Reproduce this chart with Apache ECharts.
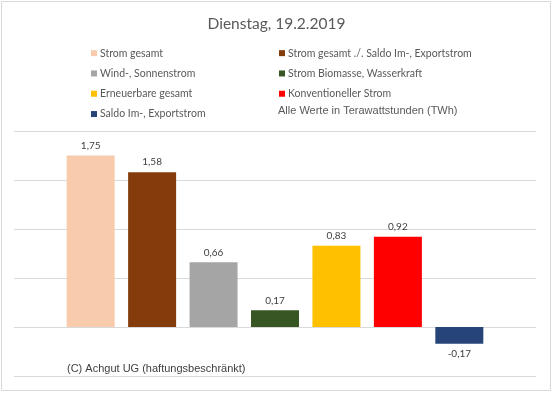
<!DOCTYPE html>
<html><head><meta charset="utf-8">
<script src="https://cdn.jsdelivr.net/npm/echarts@6/dist/echarts.min.js"></script>
<style>html,body{margin:0;padding:0;background:#fff}#c{width:553px;height:394px}</style>
</head><body><div id="c"></div>
<script>
var seriesNames = ['Strom gesamt','Strom gesamt ./. Saldo Im-, Exportstrom','Wind-, Sonnenstrom','Strom Biomasse, Wasserkraft','Erneuerbare gesamt','Konventioneller Strom','Saldo Im-, Exportstrom'];
var values = [1.75, 1.58, 0.66, 0.17, 0.83, 0.92, -0.17];
var colors = ['#F8CBAD','#843C0C','#A5A5A5','#375623','#FFC000','#FF0000','#264478'];
var category = ['19.2.2019'];

var chart = echarts.init(document.getElementById('c'));
var fontL = 'Lato, "Noto Sans", sans-serif';
var series = seriesNames.map(function(n,i){
  return {
    name: n, type: 'bar', data: [values[i]],
    barWidth: 48, barGap: '28%',
    itemStyle: {color: colors[i]},
    label: {show: true, position: values[i] < 0 ? 'bottom' : 'top', distance: 5,
      color: '#404040', fontSize: 10, fontFamily: fontL,
      formatter: function(p){ return p.value.toFixed(2).replace('.', ','); }}
  };
});
function legendCol(items, left){
  return {
    data: items, orient: 'vertical', left: left, top: 42,
    icon: 'rect', itemWidth: 6, itemHeight: 6, itemGap: 8,
    textStyle: {color: '#595959', fontSize: 10.5, fontFamily: fontL, lineHeight: 12.3, padding: [0,0,0,-2]},
    selectedMode: false
  };
}
chart.setOption({
  animation: false,
  title: {text: 'Dienstag, 19.2.2019', left: 'center', top: 11,
    textStyle: {color: '#595959', fontSize: 15.5, fontWeight: 'normal', fontFamily: fontL}},
  legend: [
    legendCol([seriesNames[0], seriesNames[2], seriesNames[4], seriesNames[6]], 86),
    legendCol([seriesNames[1], seriesNames[3], seriesNames[5]], 274)
  ],
  grid: {left: 14, right: 17, top: 131, bottom: 18},
  xAxis: {type: 'category', data: category, axisLine: {show: false}, axisTick: {show: false}, axisLabel: {show: false}},
  yAxis: {type: 'value', min: -0.5, max: 2, interval: 0.5,
    axisLabel: {show: false}, axisLine: {show: false}, axisTick: {show: false},
    splitLine: {lineStyle: {color: '#D9D9D9', width: 1}}},
  graphic: [
    {type: 'rect', shape: {x: 1.5, y: 1.5, width: 549, height: 389}, style: {fill: 'none', stroke: '#D9D9D9', lineWidth: 1}, z: -1},
    {type: 'text', left: 278, top: 105, style: {text: 'Alle Werte in Terawattstunden (TWh)', fill: '#595959', fontSize: 11, fontFamily: '"Liberation Sans", Arial, sans-serif'}},
    {type: 'text', left: 67, top: 363, style: {text: '(C) Achgut UG (haftungsbeschränkt)', fill: '#404040', fontSize: 11, fontFamily: '"Liberation Sans", Arial, sans-serif'}}
  ],
  series: series
});
</script></body></html>
